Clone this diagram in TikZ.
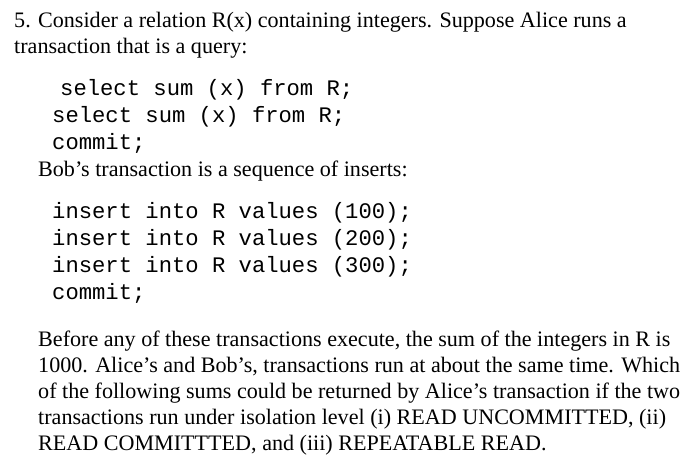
\documentclass[tikz,border=0pt]{standalone}
\usepackage{fontspec}
\setmainfont{Liberation Serif}
\setmonofont{Liberation Mono}
\begin{document}
\begin{tikzpicture}[x=1pt,y=-1pt,
  txt/.style={anchor=base west,inner sep=0pt,font=\fontsize{22.1}{26}\selectfont},
  code/.style={anchor=base west,inner sep=0pt,font=\ttfamily\fontsize{22.2}{26}\selectfont}]
\useasboundingbox[fill=white] (0,0) rectangle (700,471);
\node[txt] (l1) at (14,27) {5. Consider a relation R(x) containing integers. Suppose Alice runs a};
\node[txt] (l2) at (14,53) {transaction that is a query:};
\node[code] (c1) at (60,95) {select sum (x) from R;};
\node[code] (c2) at (52,122) {select sum (x) from R;};
\node[code] (c3) at (52,149) {commit;};
\node[txt] (l3) at (38,176) {Bob’s transaction is a sequence of inserts:};
\node[code] (d1) at (52,218) {insert into R values (100);};
\node[code] (d2) at (52,245) {insert into R values (200);};
\node[code] (d3) at (52,272) {insert into R values (300);};
\node[code] (d4) at (52,299) {commit;};
\node[txt] (p1) at (38,346) {Before any of these transactions execute, the sum of the integers in R is};
\node[txt] (p2) at (38,372) {1000. Alice’s and Bob’s, transactions run at about the same time. Which};
\node[txt] (p3) at (38,398) {of the following sums could be returned by Alice’s transaction if the two};
\node[txt] (p4) at (38,424) {transactions run under isolation level (i) READ UNCOMMITTED, (ii)};
\node[txt] (p5) at (38,450) {READ COMMITTTED, and (iii) REPEATABLE READ.};
\end{tikzpicture}
\end{document}
